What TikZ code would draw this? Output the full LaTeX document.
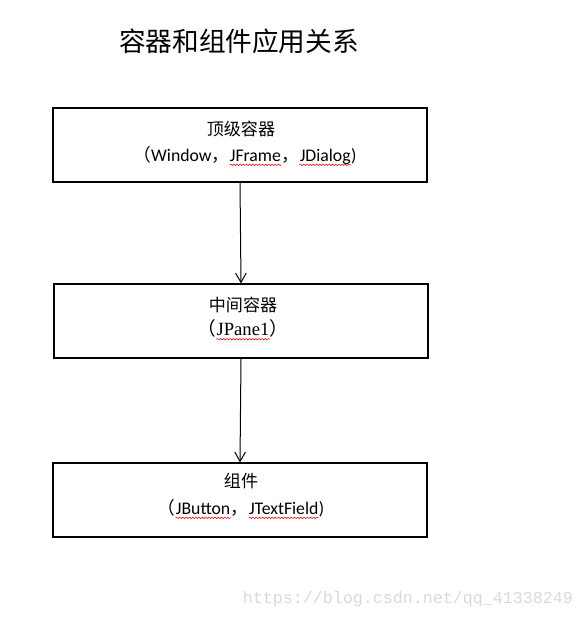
\documentclass[tikz,border=0pt]{standalone}
\usepackage{fontspec}
\setmainfont{Carlito}
\newfontfamily\cjk{Noto Sans CJK SC}
\newfontfamily\serifjp{Liberation Serif}
\newfontfamily\wmfont{Liberation Mono}
\usetikzlibrary{arrows.meta,decorations.pathmorphing}
\tikzset{
  levelbox/.style={draw, line width=0.9pt, minimum width=280.5pt, minimum height=55.5pt, inner sep=0pt},
  boxtext/.style={inner sep=0.75pt, font=\fontsize{13.3}{15}\selectfont},
  wave/.style={red, line width=0.4pt, decorate, decoration={snake, amplitude=0.55pt, segment length=2.4pt}},
  flow/.style={line width=0.75pt, -{Straight Barb[length=7pt,width=8pt]}}
}
\newcommand\spellwave[1]{\tikz[baseline=(w.base)]{\node[inner sep=0pt] (w) {#1};
  \draw[wave] ([yshift=-2.6pt]w.base west) -- ([yshift=-2.6pt]w.base east);}}
\begin{document}
\begin{tikzpicture}[x=0.75pt,y=0.75pt,yscale=-1,xscale=1]
\useasboundingbox (0,0) rectangle (585,619);

% Title
\node (title) at (239,41) [font=\cjk\fontsize{20}{22}\selectfont] {容器和组件应用关系};

%Shape: Rectangle boxes
\node (top) [levelbox] at (240,145) {};
\node (mid) [levelbox] at (241,321) {};
\node (comp) [levelbox] at (240,500) {};

% Text Node
\node (topname) at (241,129) [boxtext, font=\cjk\fontsize{12.8}{14}\selectfont] {顶级容器};
\node (topkind) at (245,156) [boxtext] {{\cjk （}Window{\cjk ，}\spellwave{JFrame}{\cjk ，}\spellwave{JDialog})};
% Text Node
\node (midname) at (243,305) [boxtext, font=\cjk\fontsize{12.8}{14}\selectfont] {中间容器};
\node (midkind) at (243,330) [boxtext, font=\fontsize{14}{16}\selectfont] {{\cjk （}\serifjp\spellwave{JPane1}{\cjk ）}};
% Text Node
\node (compname) at (241,481) [boxtext, font=\cjk\fontsize{12.8}{14}\selectfont] {组件};
\node (compkind) at (241,509) [boxtext] {{\cjk （}\spellwave{JButton}{\cjk ，}\spellwave{JTextField})};

%Straight Lines
\draw [flow] (top.south) -- (mid.north);
\draw [flow] (mid.south) -- (comp.north);

% Watermark
\node (mark) at (408,599) [inner sep=0pt, text=black!15, font=\wmfont\fontsize{12.5}{14}\selectfont] {https://blog.csdn.net/qq\_41338249};

\end{tikzpicture}
\end{document}
